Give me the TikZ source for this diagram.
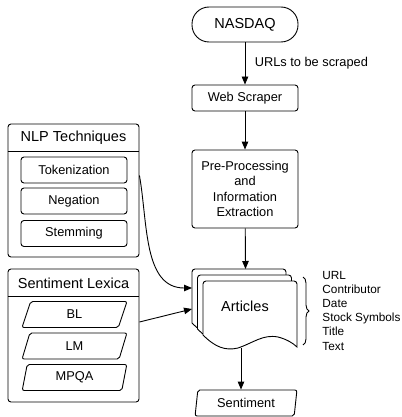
\documentclass[tikz,border=0pt]{standalone}
\usepackage{fontspec}
\setmainfont{Liberation Sans}
\usetikzlibrary{arrows.meta,shapes.geometric,decorations.pathreplacing}

\begin{document}
\begin{tikzpicture}[x=1pt,y=-1pt,line width=0.9pt,>={Triangle[length=8pt,width=6.5pt]},
					every node/.style={font=\fontsize{12.8}{15.5}\selectfont},
					box/.style={draw,rectangle,rounded corners=3pt,minimum width=106pt,minimum height=26pt,inner sep=0pt,align=center},
					lexbox/.style={draw,trapezium,trapezium left angle=80,trapezium right angle=100,trapezium stretches=true,rounded corners=2pt,minimum width=105pt,minimum height=26pt,inner sep=0pt},
					group/.style={draw,rectangle,rounded corners=3pt,minimum width=131pt,minimum height=133pt},
					title/.style={font=\fontsize{14.5}{17}\selectfont}]
	\useasboundingbox (0,0) rectangle (401,417);
	% main column
	\node (nasdaq) [draw,rounded corners=17pt,minimum width=106pt,minimum height=35pt,title] at (245,24.5) {NASDAQ};
	\node (scraper) [box] at (245,98) {Web Scraper};
	\node (prep) [box,minimum height=78pt] at (245,189) {Pre-Processing\\and\\Information\\Extraction};
	\path [->] (nasdaq) edge node [right=6pt] {URLs to be scraped} (scraper);
	\path [->] (scraper) edge (prep);
	% stacked articles
	\foreach \d in {0,1,2}
		\draw [fill=white,shift={(192+5.5*\d,269+6*\d)}] (0,54) [rounded corners=3pt]-- (0,0) -- (94,0) [sharp corners]-- (94,66)
			.. controls (90,62) and (83,58) .. (75,56) .. controls (60,53) and (50,62) .. (35,67) .. controls (22,70) and (12,66) .. (0,54) -- cycle;
	\node (art) [title] at (245,306) {Articles};
	\coordinate (in1) at (192,288);
	\coordinate (in2) at (192,309);
	\coordinate (stacktop) at (245.5,269);
	\coordinate (stackbot) at (241,348);
	\path [->] (prep) edge (stacktop);
	\draw [decorate,decoration={brace,amplitude=6pt}] (303,277) -- (303,345);
	\node (fields) [anchor=north west,align=left,inner sep=0pt,font=\fontsize{11.8}{14.2}\selectfont] at (322,270.5) {URL\\Contributor\\Date\\Stock Symbols\\Title\\Text};
	\node (sent) [lexbox,minimum width=102pt] at (246,403) {Sentiment};
	\path [->] (stackbot) edge (stackbot |- sent.north);
	% NLP techniques
	\node (nlp) [group] at (73.5,190.5) {};
	\node (nlptitle) [title] at (73.5,138) {NLP Techniques};
	\draw ([yshift=-28pt]nlp.north west) -- ([yshift=-28pt]nlp.north east);
	\node (tok) [box] at (74,170) {Tokenization};
	\node (neg) [box] at (74,201) {Negation};
	\node (stem) [box] at (74,233.5) {Stemming};
	% sentiment lexica
	\node (lex) [group] at (73.5,335.5) {};
	\node (lextitle) [title] at (73.5,283) {Sentiment Lexica};
	\draw ([yshift=-28pt]lex.north west) -- ([yshift=-28pt]lex.north east);
	\node (bl) [lexbox] at (74.5,314.5) {BL};
	\node (lm) [lexbox] at (74.5,346) {LM};
	\node (mpqa) [lexbox] at (74.5,377.5) {MPQA};
	\path [->] ([yshift=15pt]nlp.east) edge [out=-80,in=180] (in1);
	\path [->] ([yshift=13.5pt]lex.east) edge (in2);
\end{tikzpicture}
\end{document}
